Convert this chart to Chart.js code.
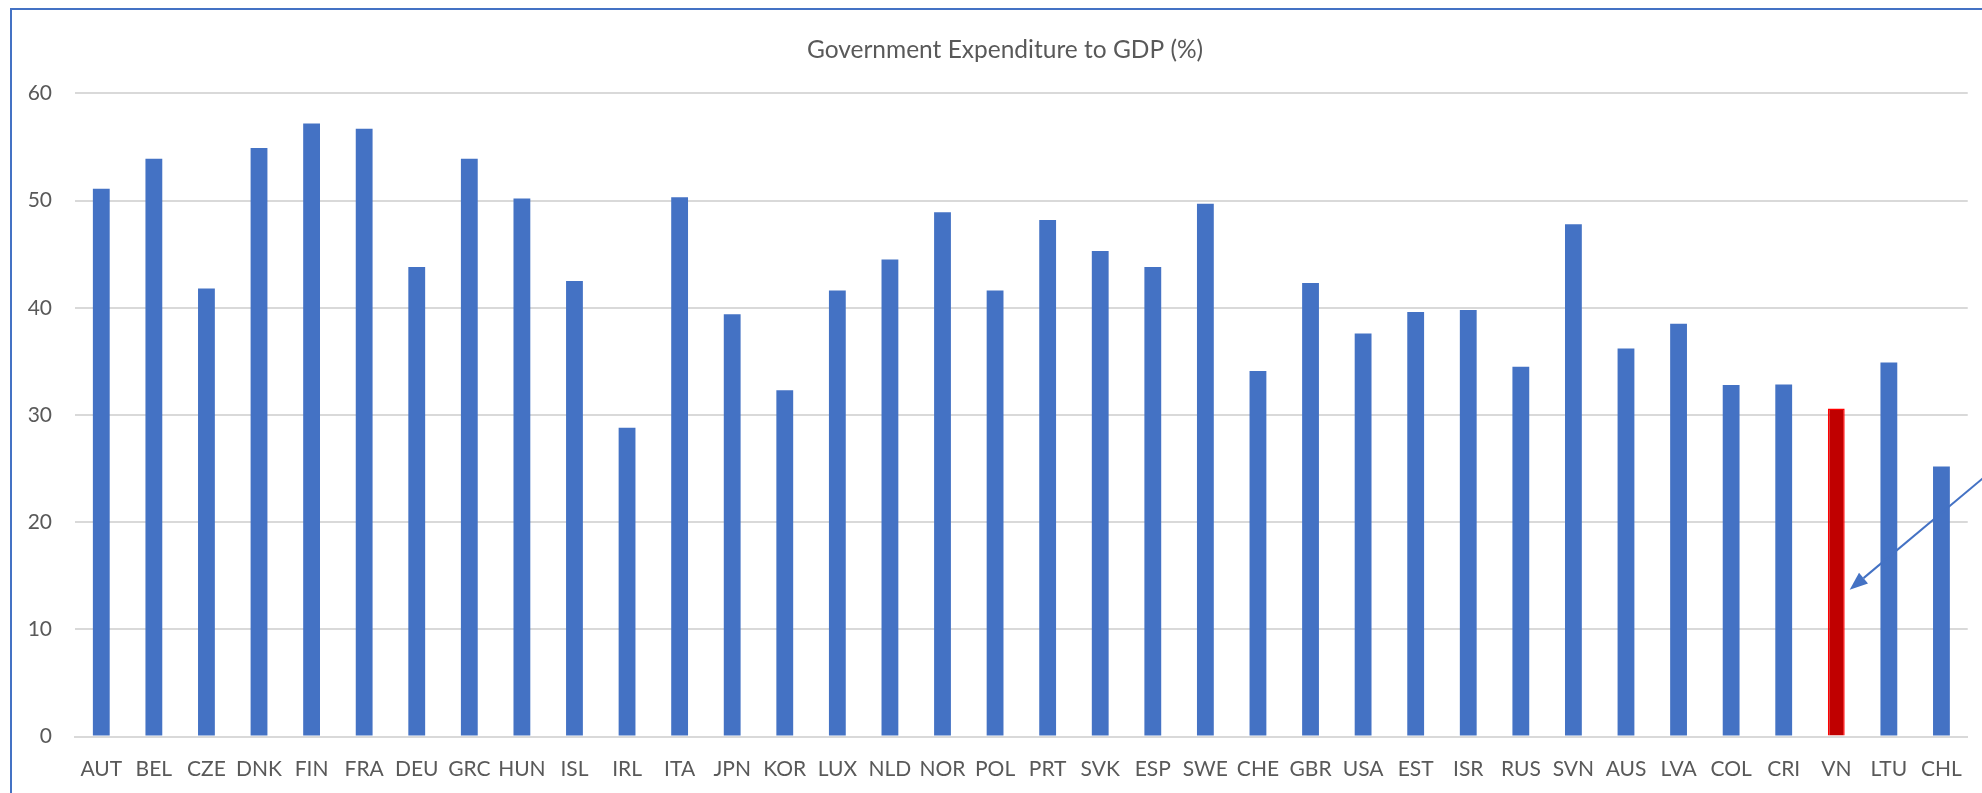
<!DOCTYPE html>
<html>
<head>
<meta charset="utf-8">
<script src="https://cdn.jsdelivr.net/npm/chart.js@4/dist/chart.umd.min.js"></script>
<style>
  html, body { margin: 0; padding: 0; background: #ffffff; width: 1982px; height: 793px; overflow: hidden; }
  #frame { position: absolute; left: 10px; top: 8px; width: 4000px; height: 2000px;
           border-left: 2px solid #4472C4; border-top: 2px solid #4472C4; pointer-events: none; }
  #c { position: absolute; left: 0; top: 0; }
</style>
</head>
<body>
<canvas id="c" width="1982" height="793"></canvas>
<div id="frame"></div>
<script>
const categories = ["AUT","BEL","CZE","DNK","FIN","FRA","DEU","GRC","HUN","ISL","IRL","ITA",
  "JPN","KOR","LUX","NLD","NOR","POL","PRT","SVK","ESP","SWE","CHE","GBR","USA","EST","ISR",
  "RUS","SVN","AUS","LVA","COL","CRI","VN","LTU","CHL"];
const expenditure = [51.1,53.9,41.8,54.9,57.2,56.7,43.8,53.9,50.2,42.5,28.8,50.3,
  39.4,32.3,41.6,44.5,48.9,41.6,48.2,45.3,43.8,49.7,34.1,42.3,37.6,39.6,39.8,
  34.5,47.8,36.2,38.5,32.8,32.85,30.6,34.9,25.2];
const yTicks = [0,10,20,30,40,50,60];
const highlightCategory = "VN";
const arrowTargetValue = 13.7;

const titleText = "Government Expenditure to GDP (%)";
const textColor = "#595959";
const fontFamily = "Lato, 'Open Sans', sans-serif";
const barBlue = "#4472C4";
const barRed = "#C00000";

const arrowPlugin = {
  id: "arrow",
  afterDatasetsDraw(chart) {
    const idx = categories.indexOf(highlightCategory);
    const bar = chart.getDatasetMeta(0).data[idx];
    if (!bar) return;
    const ctx = chart.ctx;
    const tipX = bar.x + bar.width / 2 + 5;
    const tipY = chart.scales.y.getPixelForValue(arrowTargetValue);
    const ang = Math.atan2(-107, 128);
    const len = 320;
    const tailX = tipX + Math.cos(ang) * len;
    const tailY = tipY + Math.sin(ang) * len;
    const headLen = 18, headW = 7;
    const ux = Math.cos(ang), uy = Math.sin(ang);
    const bx = tipX + ux * headLen, by = tipY + uy * headLen;
    ctx.save();
    ctx.strokeStyle = barBlue;
    ctx.fillStyle = barBlue;
    ctx.lineWidth = 2;
    ctx.beginPath();
    ctx.moveTo(bx, by);
    ctx.lineTo(tailX, tailY);
    ctx.stroke();
    ctx.beginPath();
    ctx.moveTo(tipX, tipY);
    ctx.lineTo(bx - uy * headW, by + ux * headW);
    ctx.lineTo(bx + uy * headW, by - ux * headW);
    ctx.closePath();
    ctx.fill();
    ctx.restore();
  }
};

// The original chart is cropped on the right, so its title sits left of the plot centre.
const titleShiftPlugin = {
  id: "titleShift",
  afterLayout(chart) {
    if (chart.titleBlock) { chart.titleBlock.left = 38; }
  }
};

new Chart(document.getElementById("c"), {
  type: "bar",
  data: {
    labels: categories,
    datasets: [{
      data: expenditure,
      backgroundColor: categories.map(c => c === highlightCategory ? barRed : barBlue),
      borderColor: categories.map(c => c === highlightCategory ? "#FF0000" : barBlue),
      borderWidth: categories.map(c => c === highlightCategory ? 1.5 : 0),
      borderSkipped: "bottom",
      barPercentage: 0.32,
      categoryPercentage: 1.0
    }]
  },
  options: {
    responsive: false,
    animation: false,
    devicePixelRatio: 1,
    layout: { padding: { left: 20, right: 10, top: 0, bottom: 0 } },
    plugins: {
      legend: { display: false },
      tooltip: { enabled: false },
      title: {
        display: true,
        text: titleText,
        color: textColor,
        font: { family: fontFamily, size: 24.5, weight: "normal" },
        padding: { top: 35, bottom: 29 }
      }
    },
    scales: {
      x: {
        grid: { display: false, drawTicks: false },
        border: { display: true, color: "#D9D9D9", width: 2 },
        ticks: {
          color: textColor,
          font: { family: fontFamily, size: 21 },
          padding: 20,
          maxRotation: 0,
          autoSkip: false
        },
        afterFit: (s) => { s.height = 56.5; }
      },
      y: {
        min: 0,
        max: 60,
        afterBuildTicks: (s) => { s.ticks = yTicks.map(v => ({ value: v })); },
        grid: { color: "#D9D9D9", lineWidth: 2, drawTicks: false },
        border: { display: false },
        ticks: {
          color: textColor,
          font: { family: fontFamily, size: 21 },
          padding: 23
        },
        afterFit: (s) => { s.width = 55; }
      }
    }
  },
  plugins: [arrowPlugin, titleShiftPlugin]
});
</script>
</body>
</html>
